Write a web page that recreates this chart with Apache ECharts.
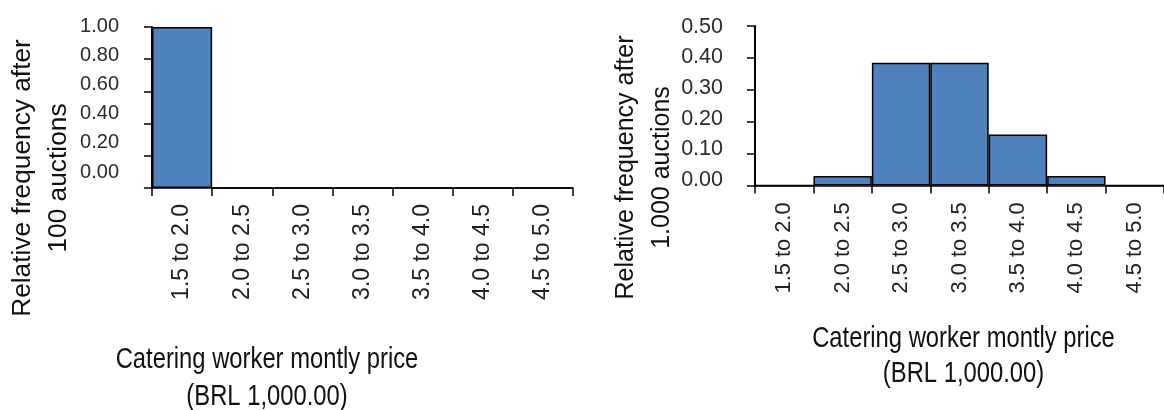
<!DOCTYPE html>
<html>
<head>
<meta charset="utf-8">
<script src="https://cdn.jsdelivr.net/npm/echarts@6/dist/echarts.min.js"></script>
<style>
  html, body { margin: 0; padding: 0; background: #fff; }
  #chart { width: 1164px; height: 410px; }
</style>
</head>
<body>
<div id="chart"></div>
<script>
// ---- data ----
const categories = ['1.5 to 2.0', '2.0 to 2.5', '2.5 to 3.0', '3.0 to 3.5', '3.5 to 4.0', '4.0 to 4.5', '4.5 to 5.0'];
const freqAfter100 = [1.00, 0, 0, 0, 0, 0, 0];
const freqAfter1000 = [0, 0.03, 0.385, 0.385, 0.16, 0.03, 0];
const yTickLabels100 = ['0.00', '0.20', '0.40', '0.60', '0.80', '1.00'];
const yTickLabels1000 = ['0.00', '0.10', '0.20', '0.30', '0.40', '0.50'];
const yTitle100 = 'Relative frequency after\n100 auctions';
const yTitle1000 = 'Relative frequency after\n1.000 auctions';
const xTitle = 'Catering worker montly price\n(BRL 1,000.00)';

// ---- styles ----
const REG = "'Liberation Sans', Arial, sans-serif";
const BAR_COLOR = '#4F81BD';

function mainX(gridIndex, fontSize, margin, lineWidth) {
  return {
    type: 'category', gridIndex, data: categories, boundaryGap: true,
    axisLine: { show: true, lineStyle: { color: '#000', width: lineWidth } },
    axisTick: { show: true, inside: false, length: 8, interval: 0, alignWithLabel: false,
                lineStyle: { color: '#000', width: 1.5 } },
    axisLabel: { show: true, interval: 0, rotate: 90, margin, color: '#222',
                 fontFamily: REG, fontSize },
    splitLine: { show: false }
  };
}
function mainY(gridIndex, max, interval) {
  return {
    type: 'value', gridIndex, min: 0, max, interval,
    axisLine: { show: true, lineStyle: { color: '#000', width: 2 } },
    axisTick: { show: true, inside: false, length: 8, lineStyle: { color: '#000', width: 1.5 } },
    axisLabel: { show: false },
    splitLine: { show: false }
  };
}
function labelY(gridIndex, labels, margin, fontSize) {
  return {
    type: 'category', gridIndex, data: labels, boundaryGap: false,
    axisLine: { show: false }, axisTick: { show: false }, splitLine: { show: false },
    axisLabel: { show: true, interval: 0, margin, color: '#2b2b2b', fontFamily: REG, fontSize }
  };
}
function hiddenX(gridIndex) {
  return { type: 'value', gridIndex, show: false };
}

const chart = echarts.init(document.getElementById('chart'), null, { renderer: 'canvas' });
chart.setOption({
  animation: false,
  backgroundColor: '#fff',
  grid: [
    { left: 152, top: 27, width: 421, height: 161 },
    { left: 144, top: 26, width: 10, height: 146 },
    { left: 755, top: 26, width: 417, height: 159.5 },
    { left: 747, top: 26.7, width: 10, height: 153.3 }
  ],
  xAxis: [
    mainX(0, 23, 16, 1.5),
    hiddenX(1),
    mainX(2, 21.8, 17, 1.5),
    hiddenX(3)
  ],
  yAxis: [
    mainY(0, 1, 0.2),
    labelY(1, yTickLabels100, 25, 20),
    mainY(2, 0.5, 0.1),
    labelY(3, yTickLabels1000, 24, 21.5)
  ],
  series: [
    { type: 'bar', xAxisIndex: 0, yAxisIndex: 0, data: freqAfter100, barWidth: '100%',
      itemStyle: { color: BAR_COLOR, borderColor: '#000', borderWidth: 1.5 } },
    { type: 'bar', xAxisIndex: 2, yAxisIndex: 2, data: freqAfter1000, barWidth: '100%',
      itemStyle: { color: BAR_COLOR, borderColor: '#000', borderWidth: 1.5 } }
  ],
  graphic: [
    { type: 'text', x: 41, y: 178, rotation: Math.PI / 2,
      style: { text: yTitle100, align: 'center', verticalAlign: 'middle', lineHeight: 36,
               fontFamily: REG, fontSize: 26.3, fill: '#111' } },
    { type: 'text', x: 644, y: 167.5, rotation: Math.PI / 2,
      style: { text: yTitle1000, align: 'center', verticalAlign: 'middle', lineHeight: 36,
               fontFamily: REG, fontSize: 25, fill: '#111' } },
    { type: 'text', x: 267, y: 378.5, scaleX: 0.82,
      style: { text: xTitle, align: 'center', verticalAlign: 'middle', lineHeight: 37,
               fontFamily: REG, fontSize: 29, fill: '#111' } },
    { type: 'text', x: 963.5, y: 356.4, scaleX: 0.82,
      style: { text: xTitle, align: 'center', verticalAlign: 'middle', lineHeight: 35,
               fontFamily: REG, fontSize: 29, fill: '#111' } }
  ]
});
</script>
</body>
</html>
